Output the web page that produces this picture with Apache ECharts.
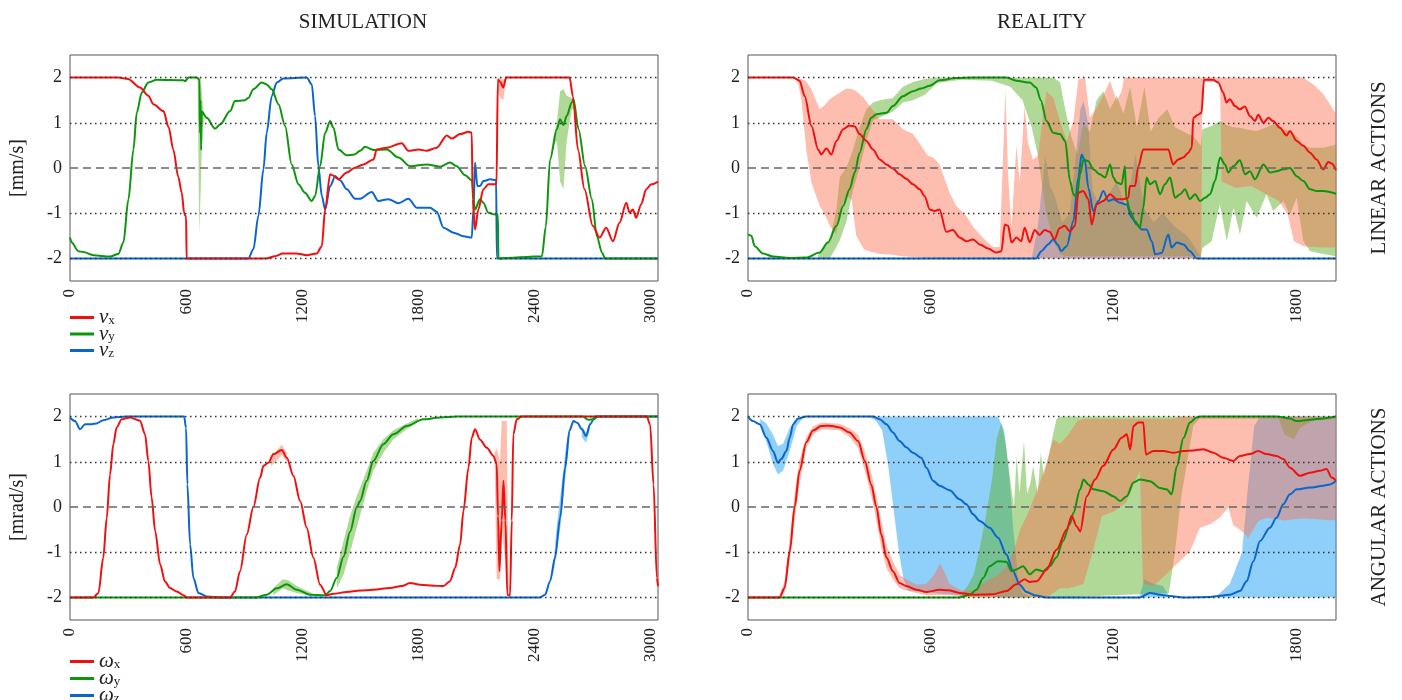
<!DOCTYPE html>
<html><head><meta charset="utf-8">
<script src="https://cdn.jsdelivr.net/npm/echarts@6/dist/echarts.min.js"></script>
<style>html,body{margin:0;padding:0;background:#fff}#c{width:1402px;height:700px}</style>
</head><body><div id="c"></div>
<script>
// ---------------- axis ticks ----------------
const simXTicks = [0, 600, 1200, 1800, 2400, 3000];
const realXTicks = [0, 600, 1200, 1800];
const yTicks = [-2, -1, 0, 1, 2];
const simXMax = 3040;
const realXMax = 1928;

// ---------------- SIMULATION, linear ----------------
const simVx = [[0,2],[250,2],[300,1.97],[362,1.78],[405,1.6],[431,1.41],[483,1.26],[510,0.9],[534,0.41],[560,-0.2],[578,-0.55],[590,-0.99],[595,-1.05],[600,-1.07],[603,-2],[1017,-2],[1060,-1.95],[1100,-1.89],[1170,-1.89],[1224,-1.93],[1276,-1.89],[1302,-1.73],[1319,-0.92],[1345,-0.14],[1362,-0.17],[1388,-0.25],[1431,-0.1],[1470,0],[1517,0.08],[1569,0.19],[1586,0.41],[1638,0.45],[1715,0.55],[1750,0.38],[1801,0.41],[1844,0.38],[1896,0.45],[1948,0.72],[1974,0.65],[2017,0.75],[2060,0.8],[2077,0.78],[2082,-0.69],[2094,-1.36],[2111,-0.92],[2137,-0.47],[2163,-0.36],[2205,-0.36],[2212,1.96],[2225,1.9],[2240,1.78],[2255,2],[2583,2],[2600,1.59],[2626,0.41],[2660,-0.47],[2703,-1.28],[2738,-1.54],[2772,-1.32],[2807,-1.62],[2841,-1.21],[2876,-0.77],[2893,-0.99],[2910,-0.92],[2927,-1.1],[2953,-0.8],[2979,-0.47],[3005,-0.36],[3040,-0.3]];
const simVy = [[0,-1.54],[9,-1.65],[43,-1.84],[69,-1.86],[121,-1.93],[207,-1.96],[250,-1.9],[276,-1.65],[302,-0.69],[328,0.41],[345,1.22],[371,1.67],[405,1.89],[448,1.95],[586,1.94],[595,1.92],[612,2],[655,2],[669,1.96],[672,0.78],[675,1.5],[678,0.4],[681,1.25],[707,1.11],[750,0.87],[776,0.96],[828,1.26],[853,1.48],[905,1.5],[922,1.55],[948,1.74],[991,1.89],[1017,1.85],[1043,1.74],[1078,1.41],[1112,0.93],[1146,0.08],[1181,-0.36],[1215,-0.55],[1250,-0.73],[1267,-0.62],[1293,0.04],[1319,0.78],[1345,1.04],[1362,0.89],[1388,0.41],[1431,0.28],[1470,0.3],[1500,0.38],[1525,0.47],[1569,0.4],[1638,0.41],[1698,0.23],[1758,0.04],[1844,0.08],[1913,0.03],[1965,0.12],[1999,0.04],[2043,-0.16],[2077,-0.27],[2094,-0.92],[2120,-0.69],[2137,-0.77],[2163,-0.99],[2198,-1.03],[2212,-1.03],[2215,-2],[2440,-1.95],[2460,-1.3],[2482,0.19],[2517,0.86],[2534,1.08],[2551,0.95],[2568,1.15],[2594,1.45],[2603,1.52],[2629,0.86],[2663,0.04],[2698,-0.69],[2724,-1.51],[2750,-1.87],[2767,-2],[3040,-2]];
const simVz = [[0,-2],[922,-2],[948,-1.8],[974,-1.06],[1000,-0.03],[1017,0.78],[1043,1.59],[1069,1.89],[1103,1.98],[1224,2],[1250,1.85],[1267,1.15],[1284,0.04],[1302,-0.62],[1319,-0.92],[1345,-0.4],[1371,-0.18],[1396,-0.27],[1431,-0.47],[1474,-0.68],[1500,-0.68],[1560,-0.53],[1594,-0.73],[1646,-0.69],[1698,-0.78],[1750,-0.68],[1793,-0.88],[1862,-0.88],[1896,-0.97],[1931,-1.32],[1983,-1.43],[2034,-1.51],[2077,-1.54],[2086,-0.92],[2094,0.12],[2106,-0.4],[2120,-0.4],[2137,-0.29],[2172,-0.25],[2203,-0.27],[2207,-2],[3040,-2]];
// bands [t, low, high]
const simVyBandA = [[660,1.9,2],[668,-1.45,2],[676,-0.5,2],[684,0.9,1.5],[692,1.0,1.2]];
const simVyBandB = [[2500,0.5,0.7],[2517,0.6,1.0],[2534,-0.3,1.7],[2551,-0.47,1.75],[2568,0.6,1.6],[2594,1.3,1.55],[2610,1.3,1.5]];
const simVxBandA = [[2212,1.7,1.98],[2225,1.55,2],[2240,1.5,1.95],[2255,1.95,2]];

// ---------------- REALITY, linear ----------------
const realVx = [[0,2],[148,2],[169,1.93],[186,1.59],[208,0.93],[230,0.41],[240,0.3],[257,0.43],[273,0.3],[290,0.6],[312,0.86],[333,0.94],[350,0.92],[366,0.75],[388,0.6],[410,0.41],[432,0.19],[454,0.08],[475,-0.01],[497,-0.14],[519,-0.24],[541,-0.36],[563,-0.47],[579,-0.62],[596,-0.92],[612,-0.95],[628,-0.92],[650,-1.41],[672,-1.37],[694,-1.54],[716,-1.62],[738,-1.58],[760,-1.69],[787,-1.78],[814,-1.87],[831,-1.84],[842,-1.25],[853,-1.28],[864,-1.65],[880,-1.54],[896,-1.62],[907,-1.32],[924,-1.64],[940,-1.37],[956,-1.48],[973,-1.37],[989,-1.41],[1005,-1.58],[1022,-1.33],[1038,-1.28],[1056,-1.4],[1072,-1.28],[1083,-0.55],[1099,-0.51],[1116,-0.69],[1127,-1.25],[1143,-0.8],[1165,-0.73],[1187,-0.58],[1209,-0.69],[1230,-0.69],[1247,-0.66],[1252,-0.4],[1269,-0.4],[1280,0.04],[1296,0.41],[1378,0.41],[1394,0.08],[1411,0.19],[1427,0.23],[1444,0.34],[1455,0.45],[1460,1.11],[1476,1.18],[1487,1.22],[1495,1.95],[1526,1.95],[1542,1.89],[1558,1.67],[1569,1.45],[1580,1.52],[1597,1.37],[1613,1.3],[1629,1.36],[1646,1.15],[1662,1.04],[1673,1.18],[1690,1.0],[1706,1.11],[1722,1.04],[1744,0.89],[1766,0.72],[1777,0.82],[1799,0.6],[1821,0.49],[1843,0.34],[1864,0.19],[1886,-0.03],[1903,0.13],[1914,0.1],[1928,-0.05]];
const realVy = [[0,-1.47],[11,-1.5],[22,-1.73],[49,-1.89],[82,-1.96],[137,-1.99],[191,-1.98],[235,-1.87],[262,-1.65],[290,-1.28],[312,-0.84],[333,-0.47],[350,-0.1],[366,0.34],[388,0.86],[404,1.11],[421,1.19],[454,1.22],[475,1.37],[508,1.59],[541,1.7],[568,1.76],[596,1.82],[628,1.94],[683,1.99],[738,2],[847,2],[880,1.93],[924,1.89],[945,1.78],[960,1.5],[979,1.04],[1001,0.78],[1023,0.75],[1040,0.6],[1056,-0.29],[1067,-0.58],[1078,-0.66],[1089,-0.14],[1100,0.19],[1116,0.15],[1132,-0.03],[1154,-0.14],[1171,-0.21],[1187,0.08],[1198,-0.21],[1209,-0.32],[1225,-0.36],[1236,0.04],[1240,-0.66],[1253,-0.95],[1269,-1.17],[1285,-1.32],[1296,-0.88],[1307,-0.21],[1318,-0.36],[1335,-0.29],[1351,-0.58],[1367,-0.36],[1384,-0.21],[1400,-0.66],[1417,-0.58],[1433,-0.47],[1449,-0.69],[1466,-0.58],[1482,-0.73],[1499,-0.66],[1515,-0.58],[1531,-0.29],[1548,0.23],[1564,0.08],[1575,-0.1],[1591,0.04],[1613,0.17],[1630,-0.14],[1646,-0.07],[1662,-0.25],[1690,0.08],[1712,-0.1],[1733,-0.07],[1755,-0.03],[1777,0.0],[1799,-0.18],[1821,-0.29],[1843,-0.47],[1865,-0.51],[1887,-0.51],[1928,-0.57]];
const realVz = [[0,-2],[945,-2],[962,-1.84],[984,-1.69],[1001,-1.58],[1016,-1.7],[1027,-1.84],[1045,-1.73],[1067,-1.17],[1083,-0.21],[1094,0.3],[1105,0.15],[1116,-0.44],[1132,-0.95],[1149,-0.73],[1165,-0.51],[1182,-0.73],[1198,-0.69],[1220,-0.77],[1242,-0.81],[1258,-1.1],[1275,-1.25],[1291,-1.36],[1307,-1.36],[1324,-1.62],[1335,-1.91],[1356,-1.88],[1378,-1.47],[1389,-1.76],[1406,-1.65],[1428,-1.69],[1449,-1.84],[1471,-2],[1928,-2]];
const realVxBand = [[160,2,2],[175,1.52,1.97],[191,0.41,1.92],[208,-0.32,1.74],[235,-0.84,1.3],[250,-1.0,1.38],[268,-1.28,1.52],[290,-1.47,1.62],[301,-1.0,1.67],[322,-0.6,1.76],[340,-0.7,1.75],[355,-1.5,1.7],[380,-1.8,1.55],[399,-1.85,1.37],[432,-1.9,1.08],[475,-1.92,1.08],[508,-1.95,0.86],[541,-1.97,0.75],[568,-1.98,0.49],[590,-2,0.27],[607,-2,0.23],[628,-2,0.08],[661,-2,-0.55],[683,-2,-0.84],[716,-2,-1.06],[738,-2,-1.3],[771,-2,-1.55],[803,-2,-1.75],[825,-2,-1.75],[836,-2,0.19],[844,-2,1.74],[853,-2,-0.18],[864,-2,-1.3],[880,-2,0.49],[891,-2,-0.32],[907,-2,1.37],[918,-2,0.56],[934,-2,0.19],[951,-2,0.27],[967,-2,1.15],[979,-2,1.7],[1001,-2,1.55],[1023,-2,1.04],[1045,-2,0.6],[1067,-2,1.04],[1083,-2,1.96],[1105,-2,2],[1121,-2,1.11],[1143,-2,1.33],[1171,-2,1.7],[1187,-2,1.93],[1209,-2,1.48],[1225,-2,1.7],[1233,-2,2],[1486,-2,2],[1490,1.9,2],[1548,1.9,2],[1553,-0.3,2],[1600,-0.44,2],[1650,-0.4,2],[1700,-0.58,2],[1740,-0.73,2],[1770,-1.03,2],[1790,-1.62,2],[1821,-1.73,2],[1854,-1.75,1.85],[1887,-1.76,1.63],[1928,-1.76,1.2]];
const realVyBand = [[230,-2,-1.93],[268,-2,-1.6],[290,-1.75,-0.9],[301,-1.6,-0.2],[322,-1.2,0.0],[344,-0.5,0.4],[366,0.0,0.9],[388,0.6,1.3],[410,1.05,1.45],[432,1.12,1.5],[475,1.25,1.55],[508,1.45,1.8],[541,1.5,1.9],[580,1.62,1.97],[620,1.88,2],[700,1.95,2],[800,1.93,2],[860,1.8,2],[900,1.5,2],[930,0.9,2],[950,0.3,2],[975,-0.9,2],[1000,-1.6,2],[1023,-1.9,1.9],[1040,-1.95,1.3],[1060,-1.95,0.7],[1080,-1.95,0.3],[1100,-1.95,1.0],[1121,-1.95,0.8],[1143,-1.95,1.5],[1165,-1.95,1.7],[1187,-1.95,1.3],[1209,-1.95,1.6],[1231,-1.95,1.2],[1253,-1.95,1.8],[1275,-1.95,0.9],[1300,-1.95,1.8],[1320,-1.95,0.8],[1345,-1.95,1.1],[1375,-1.95,1.3],[1400,-1.95,0.9],[1430,-1.95,0.8],[1460,-1.95,0.7],[1485,-1.95,0.5],[1490,-1.77,0.86],[1520,-1.62,0.93],[1547,-0.8,1.04],[1570,-1.62,0.95],[1592,-0.88,0.9],[1613,-1.47,0.89],[1635,-0.73,0.85],[1668,-1.1,0.82],[1700,-0.58,0.9],[1722,-0.95,0.96],[1755,-0.73,0.85],[1777,-1.03,0.82],[1799,-0.66,0.7],[1821,-1.62,0.5],[1843,-1.84,0.45],[1887,-1.9,0.45],[1928,-1.95,0.52]];
const realVzBand = [[930,-2,-2],[950,-2,-1.3],[975,-2,0.27],[990,-2,-0.4],[1005,-2,-0.6],[1030,-2,-1.2],[1055,-2,-1.0],[1075,-2,0.3],[1090,-2,1.3],[1100,-2,1.48],[1115,-2,1.0],[1130,-2,-0.5],[1150,-2,-0.8],[1180,-2,-0.6],[1210,-2,-0.3],[1240,-2,-0.9],[1270,-2,0.3],[1300,-2,-0.9],[1330,-2,-1.2],[1360,-2,-1.0],[1400,-2,-1.3],[1440,-2,-1.5],[1470,-2,-1.8],[1488,-2,-2]];

// ---------------- SIMULATION, angular ----------------
const simWx = [[0,-2],[121,-2],[147,-1.9],[172,-1.12],[190,-0.24],[207,0.72],[224,1.39],[241,1.76],[267,1.94],[310,1.98],[362,1.91],[388,1.61],[405,1.02],[422,0.21],[440,-0.53],[466,-1.27],[491,-1.65],[517,-1.79],[552,-1.87],[586,-1.95],[603,-2],[828,-2],[853,-1.87],[879,-1.42],[914,-0.61],[948,0],[983,0.65],[1000,0.91],[1026,0.98],[1052,1.17],[1095,1.26],[1121,1.09],[1155,0.69],[1190,0.13],[1224,-0.46],[1258,-1.12],[1293,-1.72],[1327,-1.95],[1362,-1.92],[1431,-1.88],[1500,-1.85],[1568,-1.83],[1655,-1.79],[1715,-1.75],[1758,-1.68],[1810,-1.72],[1879,-1.74],[1930,-1.75],[1965,-1.64],[1991,-1.35],[2017,-0.83],[2034,-0.09],[2060,0.87],[2077,1.53],[2094,1.72],[2120,1.49],[2155,1.31],[2189,1.13],[2206,0.95],[2213,-0.2],[2220,-1.42],[2232,-0.3],[2241,0.58],[2251,-0.3],[2261,-1.94],[2275,-1.96],[2284,-0.3],[2292,1.61],[2310,1.94],[2336,2],[2982,2],[2999,1.83],[3017,0.5],[3034,-1.57],[3040,-1.75]];
const simWy = [[0,-2],[965,-2],[1017,-1.94],[1069,-1.8],[1121,-1.71],[1172,-1.83],[1241,-1.94],[1319,-1.95],[1345,-1.86],[1379,-1.57],[1414,-1.1],[1448,-0.55],[1483,0.0],[1499,0.13],[1534,0.58],[1568,1.02],[1620,1.39],[1672,1.61],[1741,1.79],[1827,1.94],[1913,1.98],[2000,2],[2650,2],[2680,1.93],[2706,1.94],[2730,2],[3040,2]];
const simWz = [[0,1.98],[26,1.9],[52,1.72],[78,1.83],[112,1.83],[138,1.85],[172,1.92],[224,1.98],[293,2],[590,2],[600,1.75],[607,0.5],[621,-0.83],[638,-1.57],[664,-1.9],[707,-1.98],[776,-2],[2430,-2],[2456,-1.94],[2482,-1.64],[2508,-1.12],[2534,-0.24],[2560,0.87],[2582,1.68],[2603,1.9],[2624,1.86],[2646,1.72],[2668,1.57],[2689,1.83],[2715,2],[3040,2]];
const simWyBandA = [[1050,-1.95,-1.8],[1100,-1.8,-1.6],[1130,-1.85,-1.62],[1172,-1.9,-1.75],[1250,-1.97,-1.9]];
const simWyBandB = [[1379,-1.8,-1.35],[1414,-1.5,-0.75],[1448,-1.0,-0.2],[1483,-0.45,0.25],[1534,0.35,0.8],[1568,0.8,1.2],[1620,1.2,1.5],[1672,1.5,1.7],[1741,1.72,1.85],[1800,1.9,1.97]];
const simWxBandA = [[1040,0.9,1.1],[1095,1.15,1.38],[1121,1.0,1.2]];
const simWxBandB = [[2195,1.0,1.2],[2206,-1.6,1.3],[2223,-1.6,1.0],[2232,-0.5,1.9],[2258,-1.5,1.9],[2268,-1.95,-1.9]];
const simWzBandA = [[2500,-1.5,-1.2],[2517,-0.9,-0.4],[2534,-0.5,0.2],[2560,0.6,1.2],[2582,1.5,1.8]];
const simWzBandB = [[2646,1.55,1.8],[2668,1.42,1.65],[2689,1.75,1.9]];

// ---------------- REALITY, angular ----------------
const realWx = [[0,-2],[104,-2],[120,-1.79],[137,-0.98],[153,0],[169,0.8],[191,1.43],[213,1.69],[240,1.79],[268,1.8],[301,1.76],[333,1.65],[361,1.46],[383,1.02],[404,0.5],[421,0],[437,-0.61],[454,-1.12],[475,-1.42],[497,-1.68],[519,-1.75],[552,-1.83],[585,-1.88],[628,-1.83],[656,-1.84],[694,-1.9],[738,-1.94],[803,-1.93],[847,-1.86],[880,-1.71],[907,-1.6],[924,-1.66],[947,-1.64],[979,-1.39],[1012,-0.94],[1045,-0.5],[1061,-0.2],[1078,-0.43],[1089,-0.54],[1111,0.24],[1138,0.61],[1165,0.91],[1198,1.27],[1225,1.53],[1242,1.61],[1253,1.27],[1264,1.79],[1280,1.87],[1296,1.87],[1305,1.16],[1329,1.24],[1362,1.24],[1395,1.2],[1428,1.24],[1460,1.25],[1493,1.28],[1526,1.2],[1558,1.09],[1591,1.02],[1613,1.13],[1646,1.17],[1673,1.24],[1700,1.17],[1733,1.13],[1755,1.06],[1777,0.87],[1810,0.69],[1843,0.76],[1875,0.8],[1897,0.84],[1914,0.65],[1928,0.58]];
const realWy = [[0,-2],[694,-2],[727,-1.94],[749,-1.83],[771,-1.57],[792,-1.31],[820,-1.2],[847,-1.21],[864,-1.42],[880,-1.38],[902,-1.31],[924,-1.49],[945,-1.38],[967,-1.42],[989,-1.31],[1011,-1.12],[1033,-0.75],[1055,-0.38],[1067,-0.13],[1089,0.39],[1100,0.61],[1116,0.5],[1132,0.39],[1165,0.35],[1198,0.24],[1220,0.13],[1242,0.24],[1264,0.54],[1285,0.61],[1318,0.57],[1351,0.42],[1373,0.39],[1389,0.28],[1406,0.9],[1428,1.53],[1449,1.87],[1471,1.98],[1482,2],[1733,2],[1777,1.96],[1799,1.9],[1843,1.93],[1886,1.96],[1928,2]];
const realWz = [[0,2],[16,1.9],[38,1.83],[60,1.54],[82,1.24],[98,0.98],[109,1.06],[126,1.24],[137,1.54],[148,1.83],[164,1.96],[191,2],[410,2],[432,1.94],[454,1.83],[475,1.65],[497,1.46],[519,1.32],[541,1.2],[568,1.09],[585,0.87],[607,0.58],[628,0.47],[661,0.37],[694,0.17],[716,0.06],[738,-0.16],[760,-0.31],[792,-0.46],[820,-0.68],[847,-1.05],[869,-1.42],[891,-1.72],[913,-1.88],[945,-1.96],[978,-2],[1285,-2],[1318,-1.9],[1351,-1.94],[1384,-1.97],[1427,-2],[1515,-1.99],[1580,-1.94],[1613,-1.86],[1635,-1.64],[1657,-1.2],[1679,-0.75],[1711,-0.46],[1733,-0.24],[1755,0.06],[1777,0.28],[1799,0.39],[1843,0.43],[1886,0.47],[1908,0.5],[1928,0.58]];
const realWxBand = [[100,-2,-2],[120,-1.9,-1.65],[137,-1.2,-0.7],[153,-0.3,0.3],[169,0.5,1.05],[191,1.3,1.55],[213,1.6,1.78],[240,1.72,1.87],[300,1.7,1.84],[333,1.55,1.74],[361,1.3,1.6],[383,0.8,1.22],[404,0.25,0.75],[421,-0.3,0.25],[437,-0.9,-0.3],[454,-1.35,-0.85],[475,-1.6,-1.2],[497,-1.8,-1.5],[519,-1.85,-1.6],[552,-1.9,-1.72],[585,-1.95,-1.7],[610,-1.95,-1.5],[630,-1.95,-1.25],[645,-1.95,-1.45],[660,-1.95,-1.7],[700,-1.98,-1.85],[740,-2,-1.85],[780,-2,-1.65],[820,-2,-1.5],[850,-2,-1.3],[870,-2,-1.0],[892,-2,-0.5],[914,-2,-0.2],[936,-2,0.17],[957,-2,0.54],[979,-2,0.98],[1001,-1.9,1.5],[1023,-1.8,1.4],[1050,-1.8,1.6],[1080,-1.75,1.9],[1100,-1.7,1.95],[1130,-1.0,1.95],[1160,-0.2,1.95],[1200,-0.1,1.95],[1240,0.1,1.95],[1265,0.5,1.95],[1285,0.8,1.95],[1295,-1.7,1.95],[1330,-1.75,1.95],[1370,-1.5,1.95],[1400,-1.3,1.95],[1416,-1.2,2],[1449,-0.98,2],[1482,-0.46,2],[1515,-0.38,2],[1547,-0.24,2],[1575,-0.01,2],[1591,-0.4,2],[1619,-0.53,2],[1640,-0.68,2],[1657,-0.5,2],[1673,-0.31,2],[1700,-0.24,2],[1760,-0.3,2],[1820,-0.25,2],[1928,-0.3,2]];
const realWyBand = [[690,-2,-2],[720,-2,-1.75],[740,-2,-1.5],[760,-2,-0.9],[780,-2,-0.2],[800,-2,0.6],[815,-2,1.5],[830,-2,1.86],[845,-2,1.4],[860,-2,0.6],[872,-2,0.0],[881,-2,1.13],[890,-2,0.3],[905,-2,1.46],[915,-2,0.3],[925,-2,0.5],[935,-2,0.9],[950,-2,0.3],[960,-2,1.2],[970,-2,0.7],[985,-2,1.1],[1000,-2,1.6],[1012,-2,1.95],[1025,-2,2],[1380,-1.9,2],[1400,-1.0,2],[1420,0.2,2],[1440,1.0,2],[1460,1.8,2],[1480,1.95,2],[1740,1.95,2],[1760,1.6,2],[1790,1.5,2],[1810,1.75,2],[1850,1.9,2],[1928,1.95,2]];
const realWzBandA = [[40,1.85,1.95],[60,1.45,1.85],[82,0.95,1.6],[98,0.72,1.35],[115,0.8,1.4],[137,1.25,1.75],[160,1.8,1.95],[180,1.97,2]];
const realWzBandB = [[400,1.98,2],[420,1.9,2],[440,1.7,2],[460,0.9,2],[480,-0.2,2],[495,-1.0,2],[510,-1.6,2],[525,-1.85,2],[600,-1.9,2],[700,-1.95,2],[800,-1.97,2],[820,-2,2],[840,-2,1.7],[855,-2,0.8],[870,-2,-0.5],[885,-2,-1.5],[900,-2,-1.9],[920,-2,-1.97]];
const realWzBandC = [[1285,-2,-1.95],[1300,-2,-1.6],[1330,-2,-1.7],[1360,-2,-1.75],[1380,-2,-1.95]];
const realWzBandD = [[1540,-2,-1.95],[1580,-2,-1.7],[1620,-2,-1.0],[1640,-2,0.5],[1660,-2,1.8],[1680,-2,2],[1928,-2,2]];

// ---------------- legend entries ----------------
const linearNames = ['vx', 'vy', 'vz'];
const angularNames = ['ωx', 'ωy', 'ωz'];

// ---------------- styling ----------------
const SERIF = 'Liberation Serif';
const RED = '#f01010', GREEN = '#0c960c', BLUE = '#0a66cc';
const RED_F = 'rgba(250,110,80,0.45)', GREEN_F = 'rgba(90,175,40,0.48)', BLUE_F = 'rgba(50,170,245,0.55)';

function bandSeries(arr, fill, gi) {
  return {
    type: 'custom', xAxisIndex: gi, yAxisIndex: gi, data: arr, silent: true, clip: true,
    encode: { x: 0, y: [1, 2] },
    renderItem(params, api) {
      if (params.dataIndex !== 0) return null;
      const up = arr.map(d => api.coord([d[0], d[2]]));
      const lo = arr.map(d => api.coord([d[0], d[1]])).reverse();
      return { type: 'polygon', shape: { points: up.concat(lo) }, style: { fill: fill } };
    }
  };
}
function lineSeries(name, arr, color, gi) {
  return {
    type: 'line', name, xAxisIndex: gi, yAxisIndex: gi, data: arr, showSymbol: false, symbol: 'none',
    smooth: 0.3, smoothMonotone: 'x',
    color: color, lineStyle: { color: color, width: 2 }, silent: true
  };
}
function gridLines(gi) {
  const dot = { type: [1.5, 3.5], color: '#333', width: 1.3 };
  return {
    type: 'line', xAxisIndex: gi, yAxisIndex: gi, data: [[0, 0]], showSymbol: false, symbol: 'none',
    lineStyle: { opacity: 0 }, silent: true,
    markLine: {
      silent: true, symbol: ['none', 'none'], label: { show: false }, animation: false,
      data: yTicks.map(v => ({ yAxis: v, lineStyle: v === 0 ? { type: [8, 5], color: '#666', width: 1.5 } : dot }))
    }
  };
}

const gridPos = [
  { left: 70, top: 55, width: 588, height: 226 },
  { left: 748, top: 55, width: 588, height: 226 },
  { left: 70, top: 394, width: 588, height: 226 },
  { left: 748, top: 394, width: 588, height: 226 }
];
const grids = gridPos.map(g => Object.assign({ show: true, borderColor: '#555', borderWidth: 1, backgroundColor: 'transparent' }, g));

function xAxisFor(gi, max, ticks) {
  return {
    gridIndex: gi, type: 'value', min: 0, max: max, interval: 600,
    axisLine: { show: false }, axisTick: { show: false }, splitLine: { show: false },
    axisLabel: { rotate: 90, margin: 8, fontFamily: SERIF, fontSize: 17, color: '#222',
      formatter: v => (ticks.indexOf(v) >= 0 ? String(v) : '') }
  };
}
function yAxisFor(gi, name) {
  return {
    gridIndex: gi, type: 'value', min: -2.5, max: 2.5, interval: 0.5,
    axisLine: { show: false }, axisTick: { show: false }, splitLine: { show: false },
    axisLabel: { margin: 8, fontFamily: SERIF, fontSize: 18, color: '#222',
      formatter: v => (yTicks.indexOf(v) >= 0 ? String(v) : '') },
    name: name || '', nameLocation: 'middle', nameGap: 42,
    nameTextStyle: { fontFamily: SERIF, fontSize: 20, color: '#222' }
  };
}

const series = [
  bandSeries(simVyBandA, GREEN_F, 0), bandSeries(simVyBandB, GREEN_F, 0), bandSeries(simVxBandA, RED_F, 0),
  gridLines(0),
  lineSeries('vz', simVz, BLUE, 0), lineSeries('vy', simVy, GREEN, 0), lineSeries('vx', simVx, RED, 0),
  bandSeries(realVzBand, BLUE_F, 1), bandSeries(realVyBand, GREEN_F, 1), bandSeries(realVxBand, RED_F, 1),
  gridLines(1),
  lineSeries('vz', realVz, BLUE, 1), lineSeries('vy', realVy, GREEN, 1), lineSeries('vx', realVx, RED, 1),
  bandSeries(simWzBandA, BLUE_F, 2), bandSeries(simWzBandB, BLUE_F, 2),
  bandSeries(simWyBandA, GREEN_F, 2), bandSeries(simWyBandB, GREEN_F, 2),
  bandSeries(simWxBandA, RED_F, 2), bandSeries(simWxBandB, RED_F, 2),
  gridLines(2),
  lineSeries('ωz', simWz, BLUE, 2), lineSeries('ωy', simWy, GREEN, 2), lineSeries('ωx', simWx, RED, 2),
  bandSeries(realWzBandA, BLUE_F, 3), bandSeries(realWzBandB, BLUE_F, 3), bandSeries(realWzBandC, BLUE_F, 3), bandSeries(realWzBandD, BLUE_F, 3),
  bandSeries(realWyBand, GREEN_F, 3), bandSeries(realWxBand, RED_F, 3),
  gridLines(3),
  lineSeries('ωz', realWz, BLUE, 3), lineSeries('ωy', realWy, GREEN, 3), lineSeries('ωx', realWx, RED, 3)
];

function legendItem(name, centerY) {
  return {
    data: [name], orient: 'vertical', left: 70, top: centerY - 10, padding: 0,
    icon: 'rect', itemWidth: 24, itemHeight: 3, selectedMode: false,
    formatter: n => '{i|' + n.slice(0, -1) + '}{s|' + n.slice(-1) + '}',
    textStyle: { rich: {
      i: { fontFamily: SERIF, fontStyle: 'italic', fontSize: 21, color: '#222', lineHeight: 20 },
      s: { fontFamily: SERIF, fontSize: 13, color: '#222', lineHeight: 20, padding: [6, 0, 0, 0] }
    } }
  };
}
const legendCentersTop = [317, 333.5, 350];
const legendCentersBottom = [661, 678, 695];

const option = {
  animation: false,
  backgroundColor: '#fff',
  grid: grids,
  xAxis: [xAxisFor(0, simXMax, simXTicks), xAxisFor(1, realXMax, realXTicks), xAxisFor(2, simXMax, simXTicks), xAxisFor(3, realXMax, realXTicks)],
  yAxis: [yAxisFor(0, '[mm/s]'), yAxisFor(1), yAxisFor(2, '[mrad/s]'), yAxisFor(3)],
  legend: linearNames.map((n, i) => legendItem(n, legendCentersTop[i]))
    .concat(angularNames.map((n, i) => legendItem(n, legendCentersBottom[i]))),
  graphic: [
    { type: 'text', x: 363, y: 22, style: { text: 'SIMULATION', font: '21px "Liberation Serif"', fill: '#222', align: 'center', verticalAlign: 'middle' } },
    { type: 'text', x: 1042, y: 22, style: { text: 'REALITY', font: '21px "Liberation Serif"', fill: '#222', align: 'center', verticalAlign: 'middle' } },
    { type: 'text', x: 1379, y: 168, rotation: Math.PI / 2, style: { text: 'LINEAR ACTIONS', font: '21px "Liberation Serif"', fill: '#222', align: 'center', verticalAlign: 'middle' } },
    { type: 'text', x: 1379, y: 507, rotation: Math.PI / 2, style: { text: 'ANGULAR ACTIONS', font: '21px "Liberation Serif"', fill: '#222', align: 'center', verticalAlign: 'middle' } }
  ],
  series: series
};
const chart = echarts.init(document.getElementById('c'));
chart.setOption(option);
</script></body></html>
